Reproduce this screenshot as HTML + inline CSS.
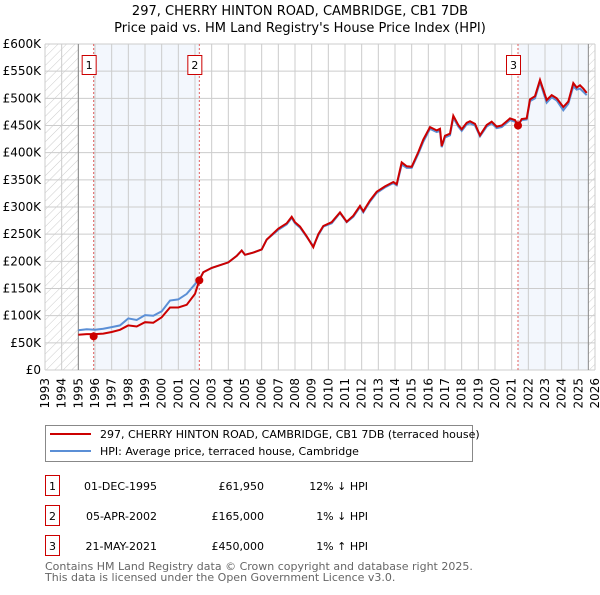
<!DOCTYPE html>
<html><head><meta charset="utf-8"><style>
body{margin:0;background:#fff;width:600px;height:590px;overflow:hidden}
svg{font-family:"DejaVu Sans","Liberation Sans",sans-serif}
</style></head><body>
<svg id="c" width="600" height="590" viewBox="0 0 600 590">
<defs><pattern id="hatch" width="6" height="6" patternUnits="userSpaceOnUse" patternTransform="rotate(45)"><line x1="0" y1="0" x2="0" y2="6" stroke="#ccc" stroke-width="1"/></pattern></defs>
<text x="300" y="15" text-anchor="middle" font-size="13">297, CHERRY HINTON ROAD, CAMBRIDGE, CB1 7DB</text>
<text x="300" y="32" text-anchor="middle" font-size="13">Price paid vs. HM Land Registry's House Price Index (HPI)</text>
<g id="plot"></g>
<g>
<rect x="45.5" y="425.5" width="427" height="36" fill="#fff" stroke="#888"/>
<line x1="50" y1="434" x2="91" y2="434" stroke="#cc0000" stroke-width="2"/>
<text x="100" y="438" font-size="11">297, CHERRY HINTON ROAD, CAMBRIDGE, CB1 7DB (terraced house)</text>
<line x1="50" y1="451" x2="91" y2="451" stroke="#5b8fd6" stroke-width="2"/>
<text x="100" y="455" font-size="11">HPI: Average price, terraced house, Cambridge</text>
</g>
<g font-size="11">
<rect x="45.5" y="475.5" width="14" height="20" fill="none" stroke="#cc0000"/><text x="52.5" y="490" text-anchor="middle">1</text>
<text x="157" y="490" text-anchor="end">01-DEC-1995</text><text x="264" y="490" text-anchor="end">£61,950</text><text x="368" y="490" text-anchor="end">12% ↓ HPI</text>
<rect x="45.5" y="505.5" width="14" height="20" fill="none" stroke="#cc0000"/><text x="52.5" y="520" text-anchor="middle">2</text>
<text x="157" y="520" text-anchor="end">05-APR-2002</text><text x="264" y="520" text-anchor="end">£165,000</text><text x="368" y="520" text-anchor="end">1% ↓ HPI</text>
<rect x="45.5" y="535.5" width="14" height="20" fill="none" stroke="#cc0000"/><text x="52.5" y="550" text-anchor="middle">3</text>
<text x="157" y="550" text-anchor="end">21-MAY-2021</text><text x="264" y="550" text-anchor="end">£450,000</text><text x="368" y="550" text-anchor="end">1% ↑ HPI</text>
</g>
<text x="45" y="570" font-size="11" fill="#666">Contains HM Land Registry data © Crown copyright and database right 2025.</text>
<text x="45" y="581" font-size="11" fill="#666">This data is licensed under the Open Government Licence v3.0.</text>
</svg>
<script>
const years=[1995,1995.5,1996,1996.5,1997,1997.5,1998,1998.5,1999,1999.5,2000,2000.5,2001,2001.5,2002,2002.26,2002.5,2003,2004,2004.5,2004.8,2005,2005.5,2006,2006.3,2007,2007.5,2007.8,2008,2008.3,2008.7,2009.1,2009.4,2009.7,2010.2,2010.7,2011.1,2011.5,2011.9,2012.1,2012.5,2012.9,2013.4,2013.9,2014.1,2014.4,2014.7,2015,2015.4,2015.7,2016.1,2016.5,2016.7,2016.8,2017,2017.3,2017.5,2017.8,2018,2018.3,2018.5,2018.8,2019.1,2019.5,2019.8,2020.1,2020.4,2020.9,2021.2,2021.38,2021.6,2021.9,2022.1,2022.4,2022.7,2023.1,2023.4,2023.7,2024.1,2024.4,2024.7,2024.9,2025.1,2025.3,2025.5];
const hpi=[73,75,74,76,79,82,95,92,101,100,108,128,130,140,158,167,180,188,198,210,220,212,216,222,240,258,268,280,270,262,245,228,248,264,270,289,272,282,300,290,310,326,336,344,340,378,372,372,398,420,444,438,440,410,428,432,464,448,440,452,454,450,430,448,454,445,447,460,457,452,460,461,495,500,530,492,502,496,478,490,522,516,518,512,506];
const price=[65,66,66,67,70,74,82,80,88,87,97,115,115,120,140,165,180,188,198,210,220,212,216,222,240,260,270,282,272,264,246,226,250,265,272,290,273,284,302,292,312,328,338,346,342,382,375,374,401,424,447,441,444,412,431,435,468,451,443,455,458,453,432,451,457,448,450,463,460,450,462,463,498,504,534,497,506,500,484,494,528,520,524,518,510];
const yTicks=[0,50,100,150,200,250,300,350,400,450,500,550,600];
const sales=[{t:1995.92,v:61.95,n:"1"},{t:2002.26,v:165,n:"2"},{t:2021.38,v:450,n:"3"}];
const L=45,R=595,T=44,B=370,Y0=1993,Y1=2026;
const X=t=>L+(t-Y0)*(R-L)/(Y1-Y0);
const Y=v=>B-v*(B-T)/600;
const NS="http://www.w3.org/2000/svg";
const g=document.getElementById('plot');
function el(tag,at,p){const e=document.createElementNS(NS,tag);for(const k in at)e.setAttribute(k,at[k]);(p||g).appendChild(e);return e;}
let s1=el('rect',{x:X(sales[0].t),y:T,width:X(sales[1].t)-X(sales[0].t),height:B-T,fill:'#eef3fc',opacity:0.7});


let s2=el('rect',{x:X(sales[2].t),y:T,width:X(2025.6)-X(sales[2].t),height:B-T,fill:'#eef3fc',opacity:0.7});


let h1=el('rect',{x:L,y:T,width:X(1995)-L,height:B-T,fill:'url(#hatch)'});


let h2=el('rect',{x:X(2025.6),y:T,width:R-X(2025.6),height:B-T,fill:'url(#hatch)'});


for(const v of yTicks){
 const ln=el('line',{x1:L,x2:R,y1:Y(v),y2:Y(v),stroke:'#ccc','stroke-width':1});
 
 
 const tx=el('text',{x:L-4,y:Y(v)+4,'text-anchor':'end','font-size':12});
 
 
 tx.textContent=v===0?'£0':'£'+v+'K';
}
for(let yr=Y0;yr<=Y1;yr++){
 const ln=el('line',{x1:X(yr),x2:X(yr),y1:T,y2:B,stroke:'#ccc','stroke-width':1});
 
 
 const tx=el('text',{x:0,y:0,'text-anchor':'end','font-size':12,transform:`translate(${X(yr)+4},${B+8}) rotate(-90)`});
 
 
 tx.textContent=yr;
}
let a1=el('line',{x1:X(1995),x2:X(1995),y1:T,y2:B,stroke:'#888'});


let a2=el('line',{x1:X(2025.6),x2:X(2025.6),y1:T,y2:B,stroke:'#888'});


for(const s of sales){
 const ln=el('line',{x1:X(s.t),x2:X(s.t),y1:T,y2:B,stroke:'#e06060','stroke-dasharray':'2,2'});
 
 
 const r=el('rect',{x:X(s.t)-11.5,y:55.5,width:14,height:19,fill:'#fff',stroke:'#cc0000'});
 
 
 const tx=el('text',{x:X(s.t)-4.5,y:69,'text-anchor':'middle','font-size':11});
 
 
 tx.textContent=s.n;
}
const pts=a=>a.map((v,i)=>X(years[i]).toFixed(1)+','+Y(v).toFixed(1)).join(' ');
let lh=el('polyline',{points:pts(hpi),fill:'none',stroke:'#5b8fd6','stroke-width':2});


let lp=el('polyline',{points:pts(price),fill:'none',stroke:'#cc0000','stroke-width':2});


for(const s of sales){
 const c=el('circle',{cx:X(s.t),cy:Y(s.v),r:4,fill:'#cc0000'});
 
 
}
</script>
</body></html>
